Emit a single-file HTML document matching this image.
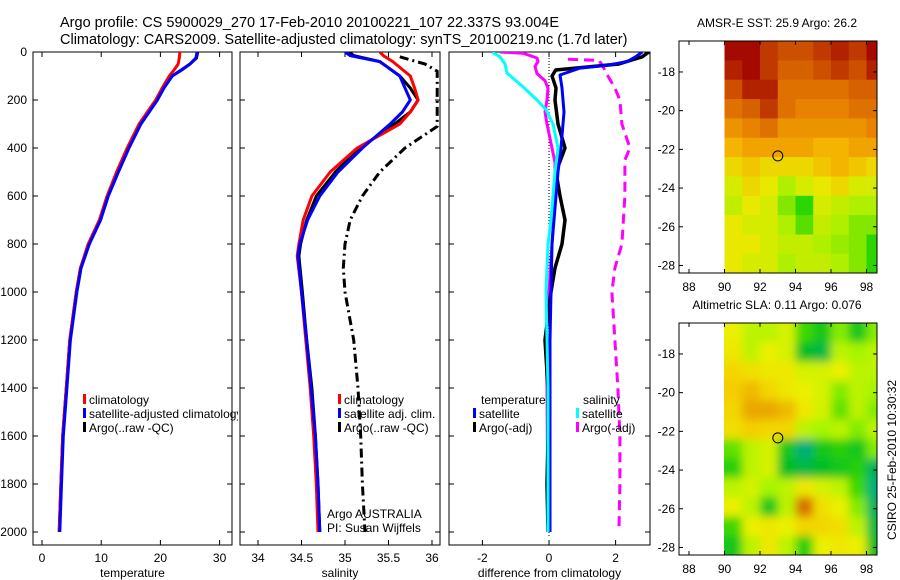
<!DOCTYPE html>
<html><head><meta charset="utf-8"><style>
html,body{margin:0;padding:0;background:#fff}
svg{display:block;font-family:"Liberation Sans",sans-serif}
</style></head><body>
<svg id="s" width="900" height="580" viewBox="0 0 900 580">
<rect width="900" height="580" fill="#fff"/>
<text x="60" y="27" font-size="14.5">Argo profile: CS 5900029_270 17-Feb-2010 20100221_107 22.337S 93.004E</text>
<text x="60" y="44" font-size="14.5">Climatology: CARS2009. Satellite-adjusted climatology: synTS_20100219.nc (1.7d later)</text>
<defs>
<clipPath id="c1"><rect x="33" y="52" width="199" height="493"/></clipPath>
<clipPath id="c1l"><rect x="33" y="380" width="205" height="60"/></clipPath>
<clipPath id="c2"><rect x="240" y="52" width="200" height="493"/></clipPath>
<clipPath id="c3"><rect x="449" y="52" width="201" height="493"/></clipPath>
<clipPath id="cm1"><rect x="724" y="41" width="153" height="232"/></clipPath>
<clipPath id="cm2"><rect x="724" y="323" width="153" height="232"/></clipPath>
<filter id="blur" x="-10%" y="-10%" width="120%" height="120%"><feGaussianBlur stdDeviation="4.5"/></filter>
</defs>
<g id="g"></g>
</svg>
<script>
// ---- data ----
const depths = [0,25,50,75,100,150,200,250,300,400,500,600,700,800,900,1000,1200,1400,1600,1800,2000];
const tempClim = [23.3,23.2,23.0,22.3,21.5,20.3,19.2,17.8,16.4,14.4,12.6,11.0,9.7,7.8,6.5,5.8,4.7,4.1,3.5,3.2,2.9];
const tempSat  = [26.2,26.0,25.0,23.5,22.0,20.6,19.5,18.1,16.7,14.7,12.9,11.2,9.9,8.0,6.6,5.9,4.8,4.2,3.6,3.3,3.0];
const tempArgo = [26.3,26.1,25.0,23.6,22.0,20.5,19.4,18.0,16.6,14.6,12.8,11.1,9.8,7.9,6.5,5.8,4.7,4.1,3.5,3.2,2.9];
const salDepths = [0,15,40,100,150,200,250,300,400,500,600,700,800,850,1000,1200,1400,1600,1800,2000];
const salClim = [35.40,35.44,35.55,35.75,35.80,35.84,35.75,35.63,35.14,34.83,34.62,34.52,34.47,34.45,34.50,34.55,34.60,34.64,34.67,34.69];
const salSat  = [35.00,35.06,35.40,35.63,35.69,35.75,35.66,35.52,35.20,34.92,34.71,34.57,34.48,34.46,34.50,34.56,34.61,34.66,34.69,34.71];
const salArgo = [35.05,35.10,35.40,35.63,35.75,35.84,35.75,35.57,35.17,34.89,34.67,34.56,34.49,34.47,34.51,34.56,34.62,34.66,34.69,34.71];
const rawDepths = [20,50,80,310,400,500,600,700,800,900,1000,1200,1400,1600,1800,2000];
const salRaw = [35.63,35.92,36.06,36.06,35.69,35.40,35.20,35.06,35.00,34.98,35.00,35.10,35.15,35.18,35.20,35.23];
const dTsatDepths = [0,20,40,55,67,96,150,250,300,400,500,600,700,800,1000,1200,2000];
const dTsat = [2.8,2.6,2.35,1.75,0.93,0.33,0.39,0.45,0.42,0.36,0.27,0.21,0.15,0.09,0.06,0.03,0.03];
const dTargoDepths = [0,20,50,75,100,150,200,300,400,500,600,700,800,900,1000,1100,1200,1400,1600,1800,2000];
const dTargo = [3.0,2.8,2.1,0.2,0.09,0.21,0.18,0.27,0.48,0.21,0.33,0.48,0.39,0.18,0.06,-0.03,-0.12,-0.03,-0.03,-0.06,-0.03];
const dSsatDepths = [0,20,50,88,145,200,240,300,400,500,600,700,800,1000,1200,1400,2000];
const dSsat = [-1.71,-1.47,-1.32,-1.26,-0.78,-0.36,-0.09,0.12,0.27,0.18,0.12,0.06,-0.03,-0.09,-0.06,-0.03,-0.03];
const dSargoDepths = [0,5,25,40,60,90,120,150,200,250,300,460,600,800,1000,1200,1400,2000];
const dSargo = [-1.47,-0.78,-0.36,-0.33,-0.42,-0.36,-0.12,-0.03,-0.06,-0.12,-0.06,0.18,0.18,0.09,0.0,-0.09,-0.06,-0.03];
const dSrawDepths = [30,35,60,100,150,200,300,400,450,600,800,900,1000,1200,1400,1600,1800,2000];
const dSraw = [0.57,1.5,1.62,1.77,1.98,2.13,2.19,2.43,2.28,2.28,2.19,1.98,1.89,1.98,2.07,2.13,2.13,2.1];
const depthTicks = [0,200,400,600,800,1000,1200,1400,1600,1800,2000];
const tempTicks = [0,10,20,30];
const salTicks = [34,34.5,35,35.5,36];
const salTickLabels = ['34','34.5','35','35.5','36'];
const diffTicks = [-2,0,2];
const mapLonTicks = [88,90,92,94,96,98];
const mapLatTicks = [-18,-20,-22,-24,-26,-28];
const mapLons = [90,91,92,93,94,95,96,97,98];
const mapLats = [-17,-18,-19,-20,-21,-22,-23,-24,-25,-26,-27,-28];
const sst = [
[28.0,28.0,27.6,27.4,27.4,27.6,27.8,27.6,28.0],
[27.8,28.0,27.6,27.2,27.2,27.4,27.6,27.4,27.8],
[27.4,27.8,27.8,27.0,27.0,27.0,27.0,27.2,27.2],
[27.0,27.2,27.6,27.0,26.8,26.8,26.8,27.0,27.0],
[26.6,26.8,27.0,26.6,26.6,26.6,26.6,26.6,26.8],
[26.2,26.4,26.4,26.4,26.4,26.2,26.2,26.4,26.4],
[25.8,26.0,25.8,25.8,25.8,26.0,26.2,26.0,25.8],
[25.4,25.8,25.6,25.0,25.4,25.6,25.8,25.4,25.4],
[25.2,25.6,25.4,24.8,24.4,25.4,25.2,25.0,25.0],
[25.6,25.4,25.4,25.0,24.6,25.2,25.0,24.8,24.8],
[25.6,25.6,25.4,25.2,25.2,25.0,24.9,24.8,24.4],
[25.6,25.4,25.4,25.0,25.2,25.2,25.0,24.8,24.4]];
const sla = [
[0.04,0.02,0.02,0.03,-0.02,-0.04,0.0,-0.04,0.0],
[0.05,0.02,0.04,0.03,-0.05,-0.06,0.02,0.01,0.02],
[0.07,0.06,0.05,0.05,0.03,0.03,0.04,0.02,0.02],
[0.08,0.09,0.07,0.05,0.04,0.03,0.0,0.02,0.01],
[0.07,0.10,0.10,0.09,0.05,0.03,-0.01,0.02,0.0],
[0.06,0.08,0.07,0.07,0.02,0.01,0.02,0.0,0.02],
[-0.01,0.02,0.03,-0.04,-0.08,-0.04,-0.03,-0.04,0.0],
[-0.03,0.02,0.03,-0.05,-0.06,-0.05,-0.04,-0.03,-0.07],
[0.02,0.03,0.01,0.02,0.05,0.03,0.02,-0.02,-0.08],
[0.04,0.02,-0.04,0.02,0.13,0.06,0.04,0.0,-0.07],
[-0.02,0.04,0.05,0.04,0.07,0.07,0.06,0.02,-0.06],
[-0.04,0.02,0.05,0.02,-0.03,0.04,0.05,0.04,-0.05]];
const argoLon = 93.004, argoLat = -22.337;

// ---- helpers ----
const NS='http://www.w3.org/2000/svg';
const G=document.getElementById('g');
function mk(tag,attrs,parent){const e=document.createElementNS(NS,tag);for(const k in attrs)e.setAttribute(k,attrs[k]);(parent||G).appendChild(e);return e;}
const yD = d => 52 + d*0.24;
const xT = t => 42 + 5.92*t;
const xS = s => 258 + 87*(s-34);
const xDf = v => 549 + 33.3*v;
const xLon = l => 689 + 17.75*(l-88);
const yLat1 = l => 41 + 19.35*(-16.4 - l);
const yLat2 = l => 323 + 19.35*(-16.4 - l);

function line(xs,ds,xf,color,name,clip,dash,w){
  let p='';xs.forEach((v,i)=>{p+=(i?'L':'M')+xf(v).toFixed(1)+','+yD(ds[i]).toFixed(1);});
  const e=mk('path',{d:p,fill:'none',stroke:color,'stroke-width':w||3,'stroke-linejoin':'round','clip-path':'url(#'+clip+')'});
  if(dash)e.setAttribute('stroke-dasharray',dash);
  
  
}
function txt(x,y,s,opts,parent){const e=mk('text',Object.assign({x:x,y:y,'font-size':12},opts||{}),parent);e.textContent=s;return e;}

function panel(x0,x1,ticks,labels,xf,title,name,showDepthLabels){
  const r=mk('rect',{x:x0,y:52,width:x1-x0,height:493,fill:'none',stroke:'#000','stroke-width':1});
  
  
  depthTicks.forEach(d=>{
    mk('line',{x1:x0,x2:x0+5,y1:yD(d),y2:yD(d),stroke:'#000'});
    mk('line',{x1:x1-5,x2:x1,y1:yD(d),y2:yD(d),stroke:'#000'});
    if(showDepthLabels){const t=txt(27,yD(d)+4,String(d),{'text-anchor':'end'});
      
      }
  });
  ticks.forEach((v,i)=>{
    const x=xf(v);
    mk('line',{x1:x,x2:x,y1:52,y2:57,stroke:'#000'});
    mk('line',{x1:x,x2:x,y1:540,y2:545,stroke:'#000'});
    const t=txt(x,562,labels[i],{'text-anchor':'middle'});
    
    
  });
  const t=txt((x0+x1)/2,577,title,{'text-anchor':'middle'});
  
  
}
panel(33,232,tempTicks,tempTicks.map(String),xT,'temperature','temperature-panel',true);
panel(240,440,salTicks,salTickLabels,xS,'salinity','salinity-panel',false);
panel(449,650,diffTicks,diffTicks.map(String),xDf,'difference from climatology','difference-panel',false);

const z=mk('line',{x1:xDf(0),x2:xDf(0),y1:52,y2:yD(2000)+6,stroke:'#000','stroke-width':1,'stroke-dasharray':'1,2'});



line(tempArgo,depths,xT,'#000','temp-argo-line','c1');
line(tempClim,depths,xT,'#f00','temp-climatology-line','c1');
line(tempSat,depths,xT,'#00f','temp-satellite-line','c1');
line(salRaw,rawDepths,xS,'#000','salinity-raw-line','c2','9,4,2,4');
line(salArgo,salDepths,xS,'#000','salinity-argo-line','c2');
line(salClim,salDepths,xS,'#f00','salinity-climatology-line','c2');
line(salSat,salDepths,xS,'#00f','salinity-satellite-line','c2');
line(dSraw,dSrawDepths,xDf,'#f0f','salinity-diff-raw-line','c3','10,6');
line(dSargo,dSargoDepths,xDf,'#f0f','salinity-diff-argo-line','c3');
line(dTargo,dTargoDepths,xDf,'#000','temp-diff-argo-line','c3',null,3.5);
line(dTsat,dTsatDepths,xDf,'#00f','temp-diff-satellite-line','c3');
line(dSsat,dSsatDepths,xDf,'#0ff','salinity-diff-satellite-line','c3');

const lg1=mk('g',{'clip-path':'url(#c1l)'});
function legItem(x,y,color,label,name,parent){
  mk('rect',{x:x,y:y-10,width:3,height:10,fill:color},parent);
  const t=txt(x+6,y,label,{},parent);
  
  
}
legItem(83,404,'#f00','climatology','legend-climatology');
legItem(83,418,'#00f','satellite-adjusted climatology','legend-satellite-adjusted',lg1);
legItem(83,432,'#000','Argo(..raw -QC)','legend-argo-raw');
legItem(338,404,'#f00','climatology','legend-sal-climatology');
legItem(338,418,'#00f','satellite adj. clim.','legend-sal-satellite');
legItem(338,432,'#000','Argo(..raw -QC)','legend-sal-argo');
[['Argo AUSTRALIA',518],['PI: Susan Wijffels',532]].forEach(a=>{const t=txt(327,a[1],a[0]);
  
  });
let t1=txt(481,404,'temperature');
legItem(473,418,'#00f','satellite','legend-temp-satellite');
legItem(473,432,'#000','Argo(-adj)','legend-temp-argo');
let t2=txt(583,404,'salinity');
legItem(576,418,'#0ff','satellite','legend-sal-diff-satellite');
legItem(576,432,'#f0f','Argo(-adj)','legend-sal-diff-argo');

function rgb(a){return 'rgb('+a.map(Math.round).join(',')+')';}
function lerpC(stops,v){
  if(v<=stops[0][0])return rgb(stops[0][1]);
  for(let i=1;i<stops.length;i++){if(v<=stops[i][0]){const a=stops[i-1],b=stops[i],f=(v-a[0])/(b[0]-a[0]);
    return rgb(a[1].map((c,k)=>c+(b[1][k]-c)*f));}}
  return rgb(stops[stops.length-1][1]);
}
const sstStops=[[24.2,[0,205,0]],[25.0,[175,240,0]],[25.6,[232,232,0]],[26.2,[245,180,0]],[26.8,[232,130,0]],[27.4,[205,80,0]],[28.0,[165,10,0]]];
const slaStops=[[-0.08,[0,175,120]],[-0.05,[0,190,40]],[-0.02,[60,215,0]],[0.01,[165,245,0]],[0.04,[235,240,0]],[0.08,[245,205,0]],[0.13,[215,110,0]]];
function map(grid,stops,yl,top,clip,title,name,blur){
  const tt=txt(777,top-14,title,{'text-anchor':'middle'});
  
  
  const g=mk('g',{'clip-path':'url(#'+clip+')'});
  const inner=mk('g',blur?{filter:'url(#blur)'}:{},g);
  
  
  grid.forEach((row,i)=>row.forEach((v,j)=>{
    const x0=xLon(mapLons[j]) - (blur && j===0 ? 12 : 0);
    const w=17.75+0.6 + (blur && j===0 ? 12 : 0) + (blur && j===row.length-1 ? 12 : 0);
    const y0=yl(mapLats[i]+0.6) - (blur && i===0 ? 12 : 0);
    const h=19.35+0.6 + (blur && i===0 ? 12 : 0) + (blur && i===grid.length-1 ? 12 : 0);
    const r=mk('rect',{x:x0,y:y0,width:w,height:h,fill:lerpC(stops,v)},inner);
    
    
  }));
  const fr=mk('rect',{x:679,y:top,width:198,height:232,fill:'none',stroke:'#000'});
  
  
  mapLonTicks.forEach(l=>{const x=xLon(l);
    mk('line',{x1:x,x2:x,y1:top,y2:top+4,stroke:'#000'});mk('line',{x1:x,x2:x,y1:top+228,y2:top+232,stroke:'#000'});
    const t=txt(x,top+250,String(l),{'text-anchor':'middle'});
    
    });
  mapLatTicks.forEach(l=>{const y=yl(l);
    mk('line',{x1:679,x2:683,y1:y,y2:y,stroke:'#000'});mk('line',{x1:873,x2:877,y1:y,y2:y,stroke:'#000'});
    const t=txt(675,y+4,String(l),{'text-anchor':'end'});
    
    });
  const c=mk('circle',{cx:xLon(argoLon),cy:yl(argoLat),r:5,fill:'none',stroke:'#000','stroke-width':1});
  
  
}
map(sst,sstStops,yLat1,41,'cm1','AMSR-E SST: 25.9 Argo: 26.2','sst-map',false);
map(sla,slaStops,yLat2,323,'cm2','Altimetric SLA: 0.11 Argo: 0.076','sla-map',true);
const ct=txt(0,0,'CSIRO 25-Feb-2010 10:30:32',{'text-anchor':'middle',transform:'translate(896,460) rotate(-90)'});


</script>
</body></html>
